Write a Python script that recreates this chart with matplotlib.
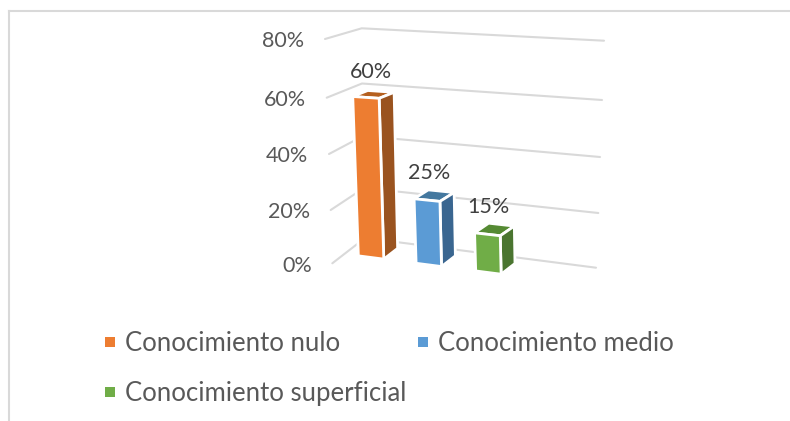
import matplotlib
matplotlib.use("Agg")
import matplotlib.pyplot as plt
from matplotlib.patches import Polygon, Rectangle
import numpy as np

categories = ["Conocimiento nulo", "Conocimiento medio", "Conocimiento superficial"]
values = [60, 25, 15]
ticks = [0, 20, 40, 60, 80]
tick_labels = ["0%", "20%", "40%", "60%", "80%"]
front = ["#ED7D31", "#5B9BD5", "#70AD47"]
side = ["#9A531F", "#3A6690", "#4A7530"]
top = ["#B5601F", "#44789F", "#558A33"]

# 3D scene -> pixel calibration (walls read at each tick)
left_x = [332.3, 330.7, 329, 326.7, 325]
left_y = [263.3, 210, 154, 97.7, 39]
back_x = [365, 364, 363, 362, 361.7]
back_y = [238, 188, 136, 83.5, 28.3]
right_x = [596, 598.3, 600, 602, 604]
right_y = [267.7, 213, 157, 100, 40.7]

def P(u, e, v):
    bx, by = np.interp(v, ticks, back_x), np.interp(v, ticks, back_y)
    lx, ly = np.interp(v, ticks, left_x), np.interp(v, ticks, left_y)
    rx, ry = np.interp(v, ticks, right_x), np.interp(v, ticks, right_y)
    return (bx + u * (rx - bx) + e * (lx - bx), by + u * (ry - by) + e * (ly - by))

def T(u, e, v):
    # top of a bar: the perspective leans it slightly left and lower
    x, y = P(u, e, v)
    return (x - 1.5, y + 3)

plt.rcParams["font.family"] = ["Lato", "DejaVu Sans"]
fig = plt.figure(figsize=(7.9, 4.21), dpi=100)
ax = fig.add_axes([0, 0, 1, 1])
ax.set_xlim(0, 790)
ax.set_ylim(421, 0)
ax.axis("off")

grid = "#D9D9D9"
ax.plot([8.5, 8.5], [11, 421], color=grid, lw=1.5)
ax.plot([8.5, 790], [11, 11], color=grid, lw=1.5)

for t, lab in zip(ticks, tick_labels):
    pts = [P(0, 1, t), P(0, 0, t), P(1, 0, t)]
    ax.plot(*zip(*pts), color=grid, lw=1.5, solid_capstyle="round", zorder=1)
    ax.text(P(0, 1, t)[0] - 20.5, P(0, 1, t)[1] + 2.2, lab, ha="right", va="center", fontsize=15.5, color="#595959")

E_F, E_B = 0.634, 0.21
W = 0.11
centers = [0.116, 0.366, 0.624]
label_dx = [3, 1, 0]
label_dy = [-22, -24, -24]
for u, v, f, s, tp, dx, dy in zip(centers, values, front, side, top, label_dx, label_dy):
    a, b = u - W / 2, u + W / 2
    kw = dict(ec="white", lw=2.0, joinstyle="miter", zorder=3)
    ax.add_patch(Polygon([T(a, E_B, v), T(b, E_B, v), T(b, E_F, v), T(a, E_F, v)], fc=tp, **kw))
    ax.add_patch(Polygon([P(b, E_F, 0), P(b, E_B, 0), T(b, E_B, v), T(b, E_F, v)], fc=s, **kw))
    ax.add_patch(Polygon([P(a, E_F, 0), P(b, E_F, 0), T(b, E_F, v), T(a, E_F, v)], fc=f, **kw))
    x, y = P(u, E_F, v)
    ax.text(x + dx, y + dy, f"{v}%", ha="center", va="center", fontsize=15.5, color="#404040", zorder=4)

legend_pos = [(105, 342), (418, 342), (105, 392)]
for (x, y), c, name in zip(legend_pos, front, categories):
    ax.add_patch(Rectangle((x, y - 5), 10, 10, fc=c, ec="none"))
    ax.text(x + 20, y + 1.5, name, ha="left", va="center", fontsize=18.5, color="#595959")

fig.savefig("out.png", dpi=100)
